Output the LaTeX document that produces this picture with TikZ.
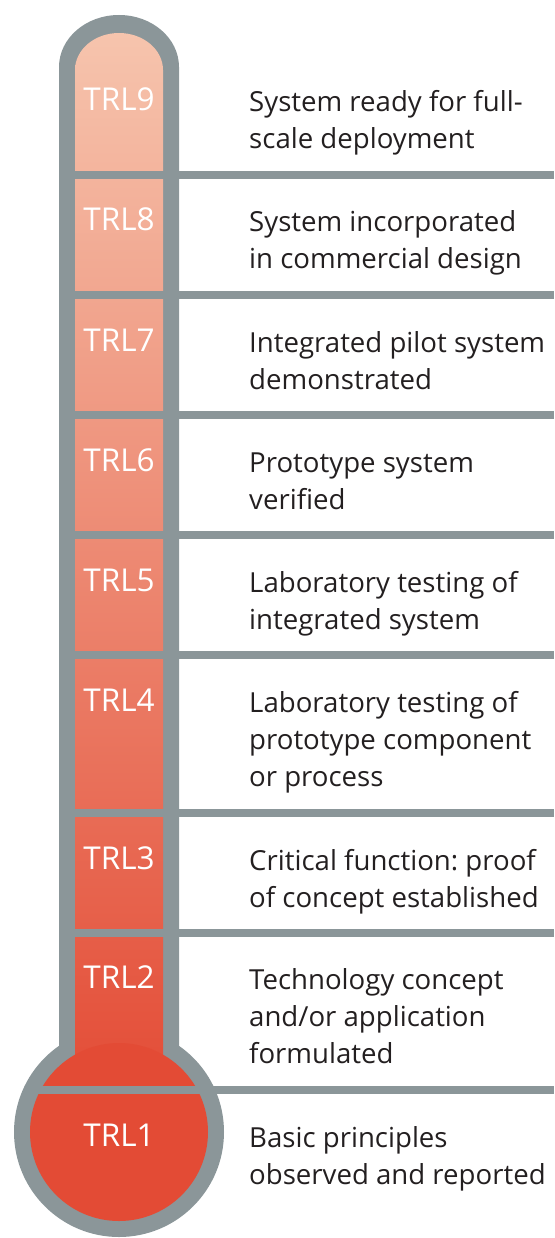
\documentclass[tikz,border=0pt]{standalone}
\usepackage{fontspec}
\setmainfont{Open Sans}
\frenchspacing
\definecolor{tubegray}{RGB}{139,150,153}
\definecolor{toplight}{RGB}{246,196,173}
\definecolor{botred}{RGB}{228,80,58}
\definecolor{bulbred}{RGB}{227,75,53}
\definecolor{txt}{RGB}{35,31,32}
\begin{document}
\begin{tikzpicture}[x=1pt,y=-1pt,
  lvl/.style={anchor=base, text=white, inner sep=0pt, font=\fontsize{31.5}{36}\selectfont},
  desc/.style={anchor=base west, text=txt, inner sep=0pt, align=left, font=\fontsize{27.6}{37}\selectfont},
  sep/.style={fill=tubegray}]
\useasboundingbox (0,0) rectangle (554,1238);
% glass outline
\fill[tubegray] (59,1046) -- (59,67) arc[start angle=180,end angle=360,x radius=60,y radius=52] -- (179,1046) -- cycle;
\fill[tubegray] (119,1132) circle[radius=105];
% liquid
\shade[top color=toplight, bottom color=botred] (75,1060) -- (75,70) arc[start angle=180,end angle=360,x radius=44,y radius=37] -- (163,1060) -- cycle;
\fill[bulbred] (119,1132) circle[radius=89];
% separators
\foreach \y in {175,295,415,535,655,813,933}{
  \fill[sep] (75,\y-4) rectangle (554,\y+4);
}
\fill[sep] (35,1086) rectangle (554,1094);
% level labels
\node[lvl] (t9) at (119,111) {TRL9};
\node[lvl] (t8) at (119,231) {TRL8};
\node[lvl] (t7) at (119,351) {TRL7};
\node[lvl] (t6) at (119,471) {TRL6};
\node[lvl] (t5) at (119,591) {TRL5};
\node[lvl] (t4) at (119,711) {TRL4};
\node[lvl] (t3) at (119,869) {TRL3};
\node[lvl] (t2) at (119,988) {TRL2};
\node[lvl] (t1) at (119,1146) {TRL1};
% descriptions (anchored at the baseline of the last line)
\node[desc] (d9) at (249,149) {System ready for full-\\scale deployment};
\node[desc] (d8) at (249,269) {System incorporated\\in commercial design};
\node[desc] (d7) at (249,389) {Integrated pilot system\\demonstrated};
\node[desc] (d6) at (249,509) {Prototype system\\verified};
\node[desc] (d5) at (249,629) {Laboratory testing of\\integrated system};
\node[desc] (d4) at (249,786) {Laboratory testing of\\prototype component\\or process};
\node[desc] (d3) at (249,907) {Critical function: proof\\of concept established};
\node[desc] (d2) at (249,1063) {Technology concept\\and/or application\\formulated};
\node[desc] (d1) at (249,1184) {Basic principles\\observed and reported};
\end{tikzpicture}
\end{document}
